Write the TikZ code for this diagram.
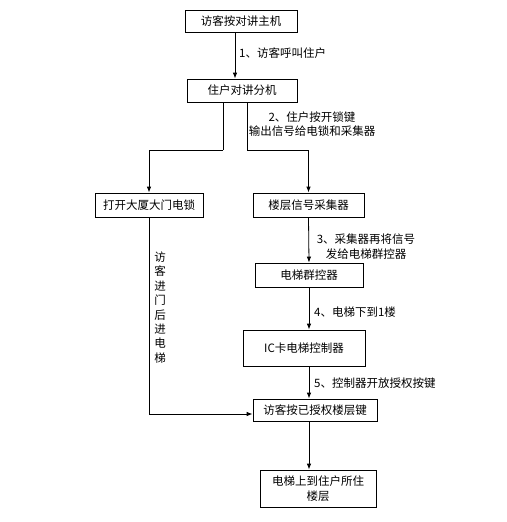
\documentclass[tikz,border=0pt]{standalone}
\usepackage{fontspec}
\setmainfont{Noto Sans CJK SC}
\usetikzlibrary{arrows.meta}
\begin{document}
\begin{tikzpicture}[x=1pt,y=-1pt,
  every node/.style={font=\fontsize{11.5}{14.4}\selectfont},
  box/.style={draw, line width=0.8pt, inner sep=0pt, align=center},
  lab/.style={inner sep=0pt, align=center},
  arr/.style={line width=0.8pt, -{Latex[length=6pt,width=4.5pt]}},
  ln/.style={line width=0.8pt}]
\fill[white] (0,0) rectangle (506,522);
\useasboundingbox (0,0) rectangle (506,522);
\node[box, minimum width=112pt, minimum height=22pt] (b1) at (241,21) {访客按对讲主机};
\node[box, minimum width=110pt, minimum height=23pt] (b2) at (242,90.5) {住户对讲分机};
\node[box, minimum width=108pt, minimum height=24pt] (b3) at (149,205) {打开大厦大门电锁};
\node[box, minimum width=111pt, minimum height=24pt] (b4) at (308.5,205) {楼层信号采集器};
\node[box, minimum width=108pt, minimum height=24pt] (b5) at (309,275) {电梯群控器};
\node[box, minimum width=122pt, minimum height=36pt] (b6) at (304,348) {IC卡电梯控制器};
\node[box, minimum width=124pt, minimum height=22pt] (b7) at (315,410) {访客按已授权楼层键};
\node[box, minimum width=116pt, minimum height=37pt] (b8) at (318,488.5) {电梯上到住户所住\\楼层};
\coordinate (x1) at (235,0);
\coordinate (j1) at (223,150);
\coordinate (j2) at (247,150);
\coordinate (j3) at (149,414);
\draw[arr] (b1.south -| x1) -- (b2.north -| x1);
\draw[ln] (b2.south -| j1) -- (j1);
\draw[arr] (j1) -| (b3.north);
\draw[ln] (b2.south -| j2) -- (j2);
\draw[arr] (j2) -| (b4.north);
\draw[arr] (b4.south) -- (b5.north);
\draw[arr] (b5.south) -- (b6.north -| b5.south);
\draw[arr] (b6.south -| b5.south) -- (b7.north -| b5.south);
\draw[arr] (b7.south -| b5.south) -- (b8.north -| b5.south);
\draw[ln] (b3.south) -- (j3);
\draw[arr] (j3) -- (j3 -| b7.west);
\node[lab, anchor=west] (l1) at (239,53) {1、访客呼叫住户};
\node[lab] (l2) at (312,124) {2、住户按开锁键\\输出信号给电锁和采集器};
\node[lab] (l3) at (366,246.5) {3、采集器再将信号\\发给电梯群控器};
\node[lab, anchor=west] (l4) at (314,312) {4、电梯下到1楼};
\node[lab, anchor=west] (l5) at (314,383) {5、控制器开放授权按键};
\node[lab, font=\fontsize{11.5}{14.4}\selectfont] (l6) at (160,307.5) {访\\客\\进\\门\\后\\进\\电\\梯};
\end{tikzpicture}
\end{document}
